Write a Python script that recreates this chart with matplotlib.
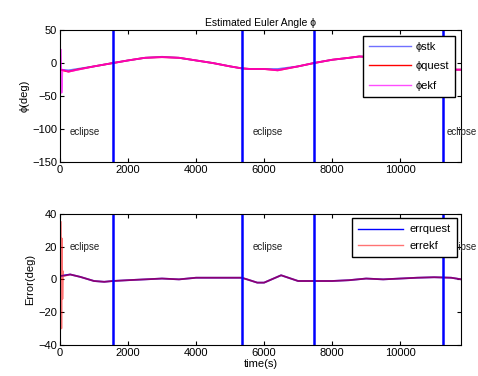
import matplotlib
matplotlib.use("Agg")
import matplotlib.pyplot as plt

plt.rcParams['font.family'] = ['Liberation Sans', 'DejaVu Sans']
plt.rcParams['xtick.direction'] = 'in'
plt.rcParams['ytick.direction'] = 'in'

# ---- data ----
t = [0, 250, 500, 1000, 1550, 2000, 2500, 3000, 3500, 4000, 4500, 5000, 5340,
     5600, 6000, 6400, 7000, 7460, 8000, 8500, 8800, 9200, 9600, 10000,
     10500, 11000, 11250, 11500, 11800]
phi_stk = [-10, -11, -9, -5, 0, 4, 8, 9.5, 8, 4, 0, -5, -8,
           -9, -9, -9, -5, 0, 5, 8, 10, 9, 6, 3,
           -3, -8, -10, -10, -10]
phi_quest = [-10, -13, -10, -5, 0, 4, 8, 9, 8, 4, 0, -5, -8,
             -9, -9, -11, -5, 0, 5, 8, 10, 9, 6, 3,
             -3, -8, -10, -10, -10]
t_ekf = [25, 45, 70, 250, 1000, 1550, 2000, 2500, 3000, 3500, 4000, 4500, 5000, 5340,
         5600, 6000, 6400, 7000, 7460, 8000, 8500, 8800, 9200, 9600, 10000,
         10500, 11000, 11250, 11500, 11800]
phi_ekf = [20, -45, -10, -13, -5, 0, 4, 8, 9, 8, 4, 0, -5, -8,
           -9, -9, -11, -5, 0, 5, 8, 10, 9, 6, 3,
           -3, -8, -10, -10, -10]

t_err = [0, 300, 600, 1000, 1300, 1550, 2000, 2500, 3000, 3500, 4000, 4500, 5000,
         5340, 5500, 5800, 6000, 6500, 7000, 7460, 8000, 8500, 9000, 9500,
         10000, 10500, 11000, 11500, 11800]
err_quest = [2, 3, 1.5, -1, -1.5, -1, -0.5, 0, 0.5, 0, 1, 1, 1,
             1, 0, -2, -2, 2.5, -1, -1, -1, -0.5, 0.5, 0,
             0.5, 1, 1.3, 1, 0]
t_err_ekf = [25, 40, 55, 70, 85, 100, 300, 600, 1000, 1300, 1550, 2000, 2500, 3000,
             3500, 4000, 4500, 5000, 5340, 5500, 5800, 6000, 6500, 7000, 7460,
             8000, 8500, 9000, 9500, 10000, 10500, 11000, 11500, 11800]
err_ekf = [35, -30, 25, -12, 5, 2, 3, 1.5, -1, -1.5, -1, -0.5, 0, 0.5,
           0, 1, 1, 1, 1, 0, -2, -2, 2.5, -1, -1,
           -1, -0.5, 0.5, 0, 0.5, 1, 1.3, 1, 0]

eclipse_lines = [1550, 5340, 7460, 11250]
eclipse_text_x = [290, 5660, 11370]

fig = plt.figure(figsize=(4.78, 3.76), dpi=100)
ax1 = fig.add_axes([0.1255, 0.569, 0.839, 0.351])
ax2 = fig.add_axes([0.1255, 0.083, 0.839, 0.348])

# top panel
ax1.plot(t, phi_stk, color='#7070ff', lw=1.3, label='ϕstk')
ax1.plot(t, phi_quest, color='red', lw=1.3, label='ϕquest')
ax1.plot(t_ekf, phi_ekf, color='#ff00ff', lw=1.3, alpha=0.7, label='ϕekf')
for x in eclipse_lines:
    ax1.axvline(x, color='blue', lw=1.8)
for x in eclipse_text_x:
    ax1.text(x, -105, 'eclipse', fontsize=7, va='center', color='#222222', clip_on=False)
ax1.set_xlim(0, 11790)
ax1.set_ylim(-150, 50)
ax1.set_yticks([-150, -100, -50, 0, 50])
ax1.set_xticks([0, 2000, 4000, 6000, 8000, 10000])
ax1.set_title('Estimated Euler Angle ϕ', fontsize=7.5, pad=3)
ax1.set_ylabel('ϕ(deg)', fontsize=8, labelpad=2)
leg1 = ax1.legend(loc='upper right', fontsize=8, fancybox=False, framealpha=1,
                  edgecolor='black', borderaxespad=0.5, handlelength=3.8,
                  handletextpad=0.4, labelspacing=0.85, borderpad=0.55)
leg1.get_frame().set_linewidth(1)
leg1.set_zorder(10)
for ln in leg1.get_lines():
    ln.set_linewidth(1)

# bottom panel
ax2.plot(t_err, err_quest, color='blue', lw=1.3, label='errquest')
ax2.plot(t_err_ekf, err_ekf, color='red', lw=1.3, alpha=0.55, label='errekf')
for x in eclipse_lines:
    ax2.axvline(x, color='blue', lw=1.8)
for x in eclipse_text_x:
    ax2.text(x, 20, 'eclipse', fontsize=7, va='center', color='#222222', clip_on=False)
ax2.set_xlim(0, 11790)
ax2.set_ylim(-40, 40)
ax2.set_yticks([-40, -20, 0, 20, 40])
ax2.set_xticks([0, 2000, 4000, 6000, 8000, 10000])
ax2.set_ylabel('Error(deg)', fontsize=8, labelpad=2)
ax2.set_xlabel('time(s)', fontsize=8, labelpad=1)
leg2 = ax2.legend(loc='upper right', fontsize=8, fancybox=False, framealpha=1,
                  edgecolor='black', borderaxespad=0.4, handlelength=4.0,
                  handletextpad=0.6, labelspacing=0.55, borderpad=0.55)
leg2.get_frame().set_linewidth(1)
leg2.set_zorder(10)
for ln in leg2.get_lines():
    ln.set_linewidth(1)

for ax in (ax1, ax2):
    ax.tick_params(labelsize=8, top=True, right=True, length=3, pad=2)
    for s in ax.spines.values():
        s.set_linewidth(0.8)

fig.savefig('out.png', dpi=100)
